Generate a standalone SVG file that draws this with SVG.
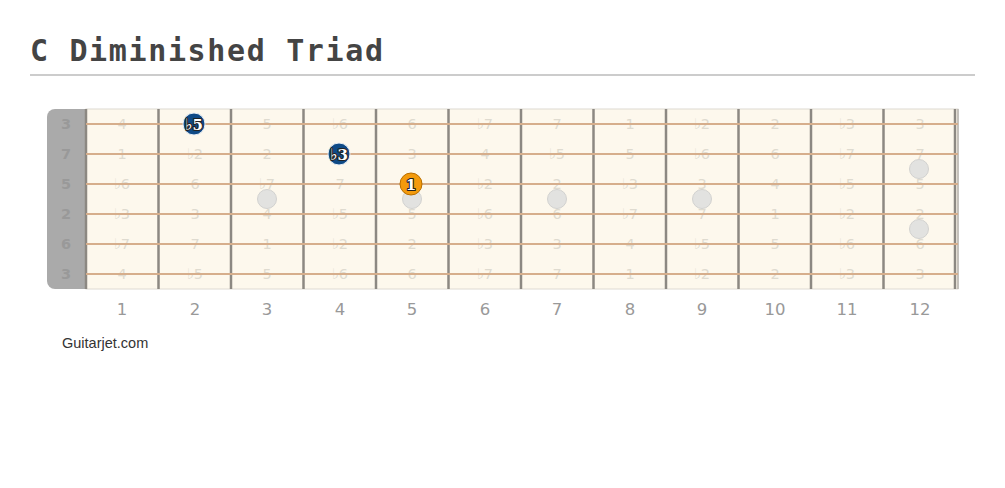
<svg xmlns="http://www.w3.org/2000/svg" width="1005" height="488" viewBox="0 0 1005 488">
<style>
.title{font-family:"DejaVu Sans Mono","Liberation Mono",monospace;font-weight:bold;font-size:30px;fill:#444}
.fret{stroke:#8c8882;stroke-width:2.5}
.str{stroke:#d6ae8c;stroke-width:2}
.lbl{font-family:"DejaVu Sans","Noto Sans",sans-serif;font-size:14.5px;fill:#dfdbd0;text-anchor:middle}
.nut{font-family:"DejaVu Sans","Noto Sans",sans-serif;font-size:14.5px;font-weight:bold;fill:#999;text-anchor:middle}
.fnum{font-family:"DejaVu Sans","Noto Sans",sans-serif;font-size:16.5px;fill:#999;text-anchor:middle}
.dot{fill:#e2e2e0;stroke:#d2d2d0;stroke-width:1}
.nt{font-family:"DejaVu Serif","Liberation Serif",serif;font-weight:bold;font-size:15px;fill:#fff;stroke:#222;stroke-width:2.2;paint-order:stroke;stroke-linejoin:round;text-anchor:middle}
.fl{font-family:"DejaVu Sans",sans-serif;font-size:16px}
.blue{fill:#0f4a86;stroke:#e8eef5;stroke-width:1}
.orange{fill:#f39a0c;stroke:#b86e00;stroke-width:1}
</style>
<rect width="1005" height="488" fill="#fff"/>
<text class="title" x="30" y="61" textLength="353" lengthAdjust="spacing">C Diminished Triad</text>
<line x1="30" y1="75" x2="975" y2="75" stroke="#cccccc" stroke-width="2"/>
<g id="fretboard">
<rect x="86" y="109" width="872" height="180" fill="#fdf8ed" stroke="#dedad2" stroke-width="1"/>
<path d="M86,109 H55 A8,8 0 0 0 47,117 V281 A8,8 0 0 0 55,289 H86 Z" fill="#aaaaaa"/>
<g class="nutlabels">
<text class="nut" x="66" y="129">3</text>
<text class="nut" x="66" y="159">7</text>
<text class="nut" x="66" y="189">5</text>
<text class="nut" x="66" y="219">2</text>
<text class="nut" x="66" y="249">6</text>
<text class="nut" x="66" y="279">3</text>
</g>
<g id="labels">
<text class="lbl" x="122" y="129">4</text><text class="lbl" x="267" y="129">5</text><text class="lbl" x="340" y="129">♭6</text><text class="lbl" x="412" y="129">6</text><text class="lbl" x="485" y="129">♭7</text><text class="lbl" x="557" y="129">7</text><text class="lbl" x="630" y="129">1</text><text class="lbl" x="702" y="129">♭2</text><text class="lbl" x="775" y="129">2</text><text class="lbl" x="847" y="129">♭3</text><text class="lbl" x="920" y="129">3</text>
<text class="lbl" x="122" y="159">1</text><text class="lbl" x="195" y="159">♭2</text><text class="lbl" x="267" y="159">2</text><text class="lbl" x="412" y="159">3</text><text class="lbl" x="485" y="159">4</text><text class="lbl" x="557" y="159">♭5</text><text class="lbl" x="630" y="159">5</text><text class="lbl" x="702" y="159">♭6</text><text class="lbl" x="775" y="159">6</text><text class="lbl" x="847" y="159">♭7</text><text class="lbl" x="920" y="159">7</text>
<text class="lbl" x="122" y="189">♭6</text><text class="lbl" x="195" y="189">6</text><text class="lbl" x="267" y="189">♭7</text><text class="lbl" x="340" y="189">7</text><text class="lbl" x="485" y="189">♭2</text><text class="lbl" x="557" y="189">2</text><text class="lbl" x="630" y="189">♭3</text><text class="lbl" x="702" y="189">3</text><text class="lbl" x="775" y="189">4</text><text class="lbl" x="847" y="189">♭5</text><text class="lbl" x="920" y="189">5</text>
<text class="lbl" x="122" y="219">♭3</text><text class="lbl" x="195" y="219">3</text><text class="lbl" x="267" y="219">4</text><text class="lbl" x="340" y="219">♭5</text><text class="lbl" x="412" y="219">5</text><text class="lbl" x="485" y="219">♭6</text><text class="lbl" x="557" y="219">6</text><text class="lbl" x="630" y="219">♭7</text><text class="lbl" x="702" y="219">7</text><text class="lbl" x="775" y="219">1</text><text class="lbl" x="847" y="219">♭2</text><text class="lbl" x="920" y="219">2</text>
<text class="lbl" x="122" y="249">♭7</text><text class="lbl" x="195" y="249">7</text><text class="lbl" x="267" y="249">1</text><text class="lbl" x="340" y="249">♭2</text><text class="lbl" x="412" y="249">2</text><text class="lbl" x="485" y="249">♭3</text><text class="lbl" x="557" y="249">3</text><text class="lbl" x="630" y="249">4</text><text class="lbl" x="702" y="249">♭5</text><text class="lbl" x="775" y="249">5</text><text class="lbl" x="847" y="249">♭6</text><text class="lbl" x="920" y="249">6</text>
<text class="lbl" x="122" y="279">4</text><text class="lbl" x="195" y="279">♭5</text><text class="lbl" x="267" y="279">5</text><text class="lbl" x="340" y="279">♭6</text><text class="lbl" x="412" y="279">6</text><text class="lbl" x="485" y="279">♭7</text><text class="lbl" x="557" y="279">7</text><text class="lbl" x="630" y="279">1</text><text class="lbl" x="702" y="279">♭2</text><text class="lbl" x="775" y="279">2</text><text class="lbl" x="847" y="279">♭3</text><text class="lbl" x="920" y="279">3</text>
</g>
<g id="frets">
<line class="fret" x1="86" y1="109" x2="86" y2="289"/>
<line class="fret" x1="158.5" y1="109" x2="158.5" y2="289"/>
<line class="fret" x1="231" y1="109" x2="231" y2="289"/>
<line class="fret" x1="303.5" y1="109" x2="303.5" y2="289"/>
<line class="fret" x1="376" y1="109" x2="376" y2="289"/>
<line class="fret" x1="448.5" y1="109" x2="448.5" y2="289"/>
<line class="fret" x1="521" y1="109" x2="521" y2="289"/>
<line class="fret" x1="593.5" y1="109" x2="593.5" y2="289"/>
<line class="fret" x1="666" y1="109" x2="666" y2="289"/>
<line class="fret" x1="738.5" y1="109" x2="738.5" y2="289"/>
<line class="fret" x1="811" y1="109" x2="811" y2="289"/>
<line class="fret" x1="883.5" y1="109" x2="883.5" y2="289"/>
<line class="fret" x1="955" y1="109" x2="955" y2="289"/>
<line x1="958" y1="109" x2="958" y2="289" stroke="#aaa6a0" stroke-width="1.2"/>
</g>
<g id="strings">
<line class="str" x1="86" y1="124" x2="958" y2="124"/>
<line class="str" x1="86" y1="154" x2="958" y2="154"/>
<line class="str" x1="86" y1="184" x2="958" y2="184"/>
<line class="str" x1="86" y1="214" x2="958" y2="214"/>
<line class="str" x1="86" y1="244" x2="958" y2="244"/>
<line class="str" x1="86" y1="274" x2="958" y2="274"/>
</g>
<g id="inlays">
<circle class="dot" cx="267" cy="199" r="9.5"/>
<circle class="dot" cx="412" cy="199" r="9.5"/>
<circle class="dot" cx="557" cy="199" r="9.5"/>
<circle class="dot" cx="702" cy="199" r="9.5"/>
<circle class="dot" cx="919" cy="169" r="9.5"/>
<circle class="dot" cx="919" cy="229" r="9.5"/>
</g>
<g id="fretnumbers">
<text class="fnum" x="122" y="315">1</text><text class="fnum" x="195" y="315">2</text><text class="fnum" x="267" y="315">3</text><text class="fnum" x="340" y="315">4</text><text class="fnum" x="412" y="315">5</text><text class="fnum" x="485" y="315">6</text><text class="fnum" x="557" y="315">7</text><text class="fnum" x="630" y="315">8</text><text class="fnum" x="702" y="315">9</text><text class="fnum" x="775" y="315">10</text><text class="fnum" x="847" y="315">11</text><text class="fnum" x="920" y="315">12</text>
</g>
</g>
<g id="note-b5">
<circle class="blue" cx="194" cy="124" r="11"/>
<text class="nt" x="194" y="129.5"><tspan class="fl">♭</tspan>5</text>
</g>
<g id="note-b3">
<circle class="blue" cx="339" cy="154" r="11"/>
<text class="nt" x="339" y="159.5"><tspan class="fl">♭</tspan>3</text>
</g>
<g id="note-1">
<circle class="orange" cx="411" cy="184" r="11"/>
<text class="nt" x="411" y="189.5">1</text>
</g>
<g id="connectors"/>
<text x="62" y="348" font-family="Liberation Sans, Arial, sans-serif" font-size="14.5" fill="#333">Guitarjet.com</text>
</svg>
